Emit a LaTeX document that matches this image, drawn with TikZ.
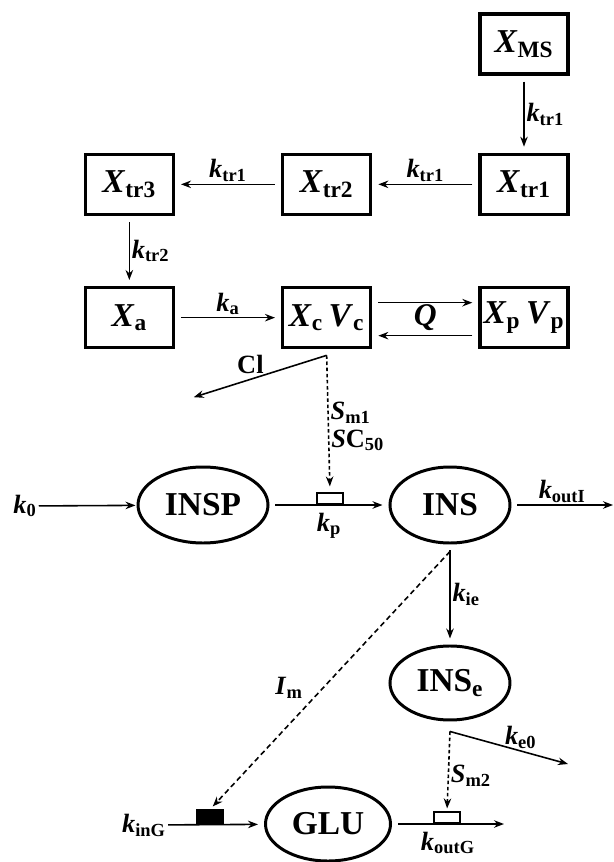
\documentclass[tikz,border=0pt]{standalone}
\usepackage{fontspec}
\setmainfont{Liberation Serif}
\usetikzlibrary{arrows.meta, positioning, shapes.geometric}

\newcommand{\kv}[2]{\textbf{\textit{#1}\textsubscript{#2}}}

\begin{document}
\begin{tikzpicture}[
    node distance=2.12cm,
    box/.style={rectangle, draw=black, line width=1.9pt, minimum width=1.76cm, minimum height=1.2cm,
                inner sep=1pt, text centered, font=\fontsize{19}{22}\selectfont},
    blob/.style={ellipse, draw=black, line width=1.7pt, minimum width=2.4cm, minimum height=1.52cm,
                 inner sep=0pt, font=\fontsize{19}{22}\selectfont\bfseries},
    gate/.style={rectangle, draw=black, line width=0.9pt, fill=white, minimum width=0.52cm,
                 minimum height=0.22cm, inner sep=0pt},
    lbl/.style={font=\fontsize{15}{17}\selectfont, inner sep=1pt},
    arr/.style={-{Stealth[length=2mm, width=1.5mm]}, line width=0.9pt, shorten >=0.12cm, shorten <=0.12cm},
    dots/.style={arr, dash pattern=on 2pt off 1.5pt, shorten <=0pt},
]

% page size
\useasboundingbox (0,0) rectangle (12.28,-17.24);

% Absorption compartments
\node[box] (xms) at (10.48,-0.88) {\kv{X}{MS}};
\node[box, below=1.54cm of xms] (xtr1) {\kv{X}{tr1}};
\node[box, left=of xtr1] (xtr2) {\kv{X}{tr2}};
\node[box, left=of xtr2] (xtr3) {\kv{X}{tr3}};
\node[box, below=1.4cm of xtr3] (xa) {\kv{X}{a}};
\node[box, right=of xa] (xc) {\kv{X}{c}\,\kv{V}{c}};
\node[box, right=of xc] (xp) {\kv{X}{p}\,\kv{V}{p}};

\draw[arr] (xms) -- node[lbl, right] (ktr1a) {\kv{k}{tr1}} (xtr1);
\draw[arr] (xtr1) -- node[lbl, above] (ktr1b) {\kv{k}{tr1}} (xtr2);
\draw[arr] (xtr2) -- node[lbl, above] (ktr1c) {\kv{k}{tr1}} (xtr3);
\draw[arr] (xtr3) -- node[lbl, right] (ktr2) {\kv{k}{tr2}} (xa);
\draw[arr] (xa) -- node[lbl, above] (ka) {\kv{k}{a}} (xc);
\draw[arr] ([yshift=0.3cm]xc.east) -- ([yshift=0.3cm]xp.west);
\draw[arr] ([yshift=-0.36cm]xp.west) -- ([yshift=-0.36cm]xc.east);
\path (xc) -- node[font=\fontsize{18}{20}\selectfont] (q) {\textbf{\textit{Q}}} (xp);

% Clearance
\coordinate (clsrc) at ([yshift=-0.12cm]xc.south);
\coordinate (clend) at (3.76,-7.98);
\draw[arr, shorten <=0pt] (clsrc) -- node[lbl, above=2pt, pos=0.55] (cl) {\textbf{Cl}} (clend);

% Insulin
\node[blob, minimum width=2.6cm] (insp) at (4.06,-10.1) {INSP};
\node[blob, right=2.38cm of insp] (ins) {INS};
\node[blob, below=2.0cm of ins, minimum height=1.48cm] (inse) {INS\textsubscript{e}};
\node[lbl] (k0) at (0.5,-10.12) {\kv{k}{0}};
\coordinate (insout) at (12.26,-10.1);

\draw[arr, shorten <=0pt, shorten >=0.02cm] (k0) -- (insp);
\draw[arr] (insp) -- node[lbl, below=3pt] (kp) {\kv{k}{p}} (ins);
\draw[arr, shorten >=0pt] (ins) -- node[lbl, above] (kouti) {\kv{k}{outI}} (insout);
\draw[arr] (ins) -- node[lbl, right] (kie) {\kv{k}{ie}} (inse);
\node[gate, anchor=south] (pgate) at (6.6,-10.1) {};
\draw[dots] (clsrc) -- node[lbl, right, pos=0.42] (sm1) {\kv{S}{m1}}
                       node[lbl, right, pos=0.62] (sc50) {\textbf{\textit{S}C\textsubscript{50}}} (pgate.north);

% Glucose
\node[blob, minimum width=2.5cm, minimum height=1.48cm] (glu) at (6.56,-16.48) {GLU};
\node[lbl] (king) at (2.88,-16.5) {\kv{k}{inG}};
\coordinate (gluout) at (10.08,-16.48);
\draw[arr, shorten <=0pt] (king) -- (glu);
\draw[arr, shorten >=0pt] (glu) -- node[lbl, below=3pt] (koutg) {\kv{k}{outG}} (gluout);
\node[gate, anchor=south, fill=black, minimum height=0.26cm] (ingate) at (4.2,-16.48) {};
\node[gate, anchor=south] (outgate) at (8.94,-16.48) {};

% Effects on glucose
\coordinate (imsrc) at ([yshift=-0.14cm]ins.south);
\draw[dots, dash pattern=on 3pt off 2pt, shorten >=0.08cm] (imsrc) -- node[lbl, left=0.35cm, pos=0.53] (im) {\kv{I}{m}} (ingate.north);
\coordinate (kesrc) at ([yshift=-0.2cm]inse.south);
\coordinate (keend) at (11.36,-15.28);
\draw[arr, shorten <=0pt, shorten >=0pt] (kesrc) -- node[lbl, above, pos=0.6] (ke0) {\kv{k}{e0}} (keend);
\draw[dots, shorten >=0.06cm] (kesrc) -- node[lbl, right, pos=0.55] (sm2) {\kv{S}{m2}} (outgate.north);

\end{tikzpicture}
\end{document}
